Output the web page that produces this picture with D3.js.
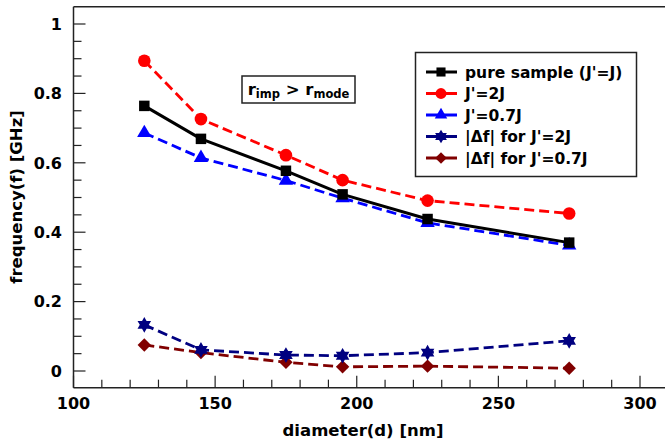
<!DOCTYPE html>
<html><head><meta charset="utf-8">
<script src="https://cdn.jsdelivr.net/npm/d3@7"></script>
<style>html,body{margin:0;padding:0;background:#fff;overflow:hidden}svg{display:block}text{font-family:"DejaVu Sans",sans-serif;font-weight:bold;fill:#000}</style>
</head><body>
<script>
const diameters = [125, 145, 175, 195, 225, 275];
const pureSample = [0.764, 0.669, 0.577, 0.509, 0.438, 0.370];
const jPrime2J = [0.894, 0.726, 0.622, 0.550, 0.491, 0.454];
const jPrime07J = [0.686, 0.614, 0.549, 0.498, 0.427, 0.362];
const deltaF2J = [0.133, 0.061, 0.046, 0.044, 0.053, 0.087];
const deltaF07J = [0.075, 0.053, 0.025, 0.012, 0.014, 0.008];
const seriesNames = ["pure sample (J'=J)", "J'=2J", "J'=0.7J", "|\u0394f| for J'=2J", "|\u0394f| for J'=0.7J"];
const xTicks = [100, 150, 200, 250, 300];
const yTicks = [0, 0.2, 0.4, 0.6, 0.8, 1];
const xTickLabels = ["100", "150", "200", "250", "300"];
const yTickLabels = ["0", "0.2", "0.4", "0.6", "0.8", "1"];

const W = 665, H = 441;
const svg = d3.select("body").append("svg").attr("width", W).attr("height", H);

const x = d3.scaleLinear().domain([100, 300]).range([73.5, 640]);
const y = d3.scaleLinear().domain([0, 1]).range([371, 24]);
const xMin = 100, xMax = 320, yMin = -0.048, yMax = 1.05;

// hexagram symbol
const hexagram = {
  draw(ctx, size) {
    const r = Math.sqrt(size) * 0.62;
    const ri = r / Math.sqrt(3);
    for (let i = 0; i < 12; i++) {
      const a = -Math.PI / 2 + i * Math.PI / 6;
      const rr = i % 2 === 0 ? r : ri;
      const px = rr * Math.cos(a), py = rr * Math.sin(a);
      if (i === 0) ctx.moveTo(px, py); else ctx.lineTo(px, py);
    }
    ctx.closePath();
  }
};
// wide diamond (rotated square)
const wideDiamond = {
  draw(ctx, size) {
    const r = Math.sqrt(size / 2);
    ctx.moveTo(0, -r); ctx.lineTo(r, 0); ctx.lineTo(0, r); ctx.lineTo(-r, 0); ctx.closePath();
  }
};

const series = [
  {name: seriesNames[0], values: pureSample, color: "#000000", dash: null, width: 3, sym: d3.symbolSquare, size: 110},
  {name: seriesNames[1], values: jPrime2J, color: "#ff0000", dash: "10,5", width: 2.8, sym: d3.symbolCircle, size: 125},
  {name: seriesNames[2], values: jPrime07J, color: "#0000ff", dash: "10,5", width: 2.8, sym: d3.symbolTriangle, size: 90},
  {name: seriesNames[3], values: deltaF2J, color: "#000080", dash: "10,5", width: 2.8, sym: hexagram, size: 160},
  {name: seriesNames[4], values: deltaF07J, color: "#800000", dash: "10,5", width: 2.8, sym: wideDiamond, size: 90}
];

// frame
const frame = svg.append("g").attr("stroke", "#222").attr("stroke-width", 1.5).attr("fill", "none");
frame.append("line").attr("x1", x(xMin)).attr("x2", x(xMax)).attr("y1", y(yMin)).attr("y2", y(yMin));
frame.append("line").attr("x1", x(xMin)).attr("x2", x(xMax)).attr("y1", y(yMax)).attr("y2", y(yMax));
frame.append("line").attr("x1", x(xMin)).attr("x2", x(xMin)).attr("y1", y(yMin)).attr("y2", y(yMax));

// ticks (inward)
const xt = svg.append("g").attr("stroke", "#222").attr("stroke-width", 1.2);
d3.range(100, 321, 10).forEach(v => {
  const major = v % 50 === 0;
  xt.append("line").attr("x1", x(v)).attr("x2", x(v)).attr("y1", y(yMin)).attr("y2", y(yMin) - (major ? 12 : 8));
});
d3.range(0, 1.001, 0.05).forEach(v => {
  const major = Math.abs(Math.round(v * 5) - v * 5) < 1e-6;
  xt.append("line").attr("x1", x(xMin)).attr("x2", x(xMin) + (major ? 12 : 8)).attr("y1", y(v)).attr("y2", y(v));
});
xTicks.forEach((v, i) => {
  svg.append("text").attr("x", x(v)).attr("y", 409).attr("text-anchor", "middle").attr("font-size", 16).text(xTickLabels[i]);
});
yTicks.forEach((v, i) => {
  svg.append("text").attr("x", 62).attr("y", y(v)).attr("dy", "0.36em").attr("text-anchor", "end").attr("font-size", 16).text(yTickLabels[i]);
});

// axis titles
svg.append("text").attr("x", 363).attr("y", 436).attr("text-anchor", "middle").attr("font-size", 16.5).text("diameter(d) [nm]");
svg.append("text").attr("transform", "translate(22,197) rotate(-90)").attr("text-anchor", "middle").attr("font-size", 16.5).text("frequency(f) [GHz]");

// series lines & markers
const line = d3.line().x((d, i) => x(diameters[i])).y(d => y(d));
series.slice().reverse().forEach(s => {
  svg.append("path").datum(s.values).attr("d", line).attr("fill", "none")
    .attr("stroke", s.color).attr("stroke-width", s.width)
    .attr("stroke-dasharray", s.dash).attr("stroke-linejoin", "round");
  svg.append("g").selectAll("path").data(s.values).join("path")
    .attr("transform", (d, i) => `translate(${x(diameters[i])},${y(d)})`)
    .attr("d", d3.symbol().type(s.sym).size(s.size)).attr("fill", s.color);
});

// annotation box
const ann = svg.append("g");
ann.append("rect").attr("x", 242).attr("y", 76).attr("width", 113).attr("height", 27)
  .attr("fill", "#fff").attr("stroke", "#222").attr("stroke-width", 1.5);
const at = ann.append("text").attr("x", 298.5).attr("y", 95).attr("text-anchor", "middle").attr("font-size", 16.5);
at.append("tspan").text("r");
at.append("tspan").attr("font-size", 11.5).attr("dy", 3).text("imp");
at.append("tspan").attr("dy", -3).text(" > r");
at.append("tspan").attr("font-size", 11.5).attr("dy", 3).text("mode");

// legend
const lg = svg.append("g");
lg.append("rect").attr("x", 415.5).attr("y", 52.5).attr("width", 221).attr("height", 124)
  .attr("fill", "#fff").attr("stroke", "#222").attr("stroke-width", 1.5);
series.forEach((s, i) => {
  const yy = 72 + i * 21.5;
  lg.append("line").attr("x1", 426).attr("x2", 457).attr("y1", yy).attr("y2", yy)
    .attr("stroke", s.color).attr("stroke-width", 3);
  lg.append("path").attr("transform", `translate(441,${yy})`)
    .attr("d", d3.symbol().type(s.sym).size(s.size * 0.75)).attr("fill", s.color);
  lg.append("text").attr("x", 465).attr("y", yy).attr("dy", "0.36em").attr("font-size", 15.5).text(s.name);
});
</script>
</body></html>
